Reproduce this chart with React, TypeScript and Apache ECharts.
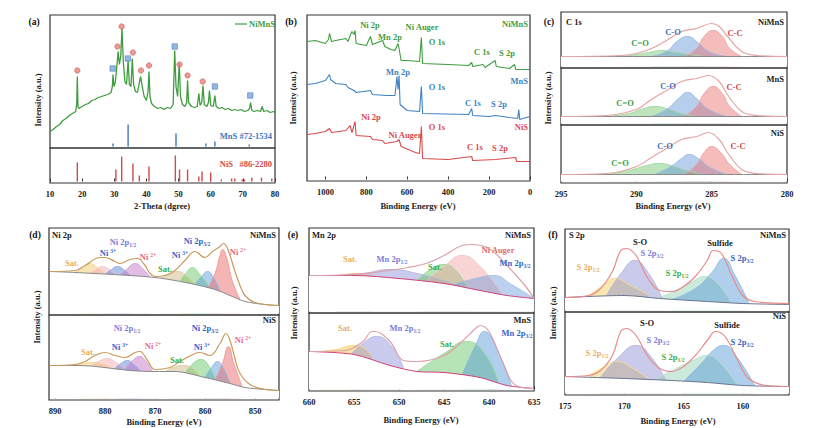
import { useEffect, useRef } from 'react';
import * as echarts from 'echarts';

type Pt = [number, number];

// ---------- (a) XRD ----------
const xrdNiMnS: Pt[] = [[10,15],[11,17],[12,20],[13,22],[14,26],[15,28],[16,31],[17,33],[18,35],[18.3,42],[18.5,70],[18.7,40],[19,38],[20,40],[21,42],[22,43],[23,46],[24,47],[25,49],[26,50],[27,51],[28,52],[29,54],[29.4,60],[29.6,72],[29.9,60],[30.3,64],[30.8,80],[31.2,95],[31.6,82],[32.0,90],[32.4,118],[32.8,85],[33.3,65],[33.8,62],[34.3,86],[34.7,62],[35.2,60],[35.6,88],[36.0,62],[36.6,55],[37.2,54],[37.8,64],[38.2,70],[38.7,60],[39.3,50],[40.0,46],[40.5,55],[40.8,75],[41.1,50],[41.6,43],[42.5,40],[43.5,38],[44.5,39],[45.5,37],[46.5,39],[47.5,38],[48.3,42],[48.8,96],[49.2,60],[49.7,50],[50.2,83],[50.6,50],[51.2,42],[52,40],[52.5,44],[52.8,66],[53.1,44],[54,40],[55,39],[55.8,40],[56.3,53],[56.7,41],[57.2,44],[57.6,61],[58,42],[58.8,40],[59.3,44],[59.6,56],[60,41],[60.8,40],[61.3,51],[61.7,40],[62.5,38],[63.5,39],[64.5,37],[65.5,38],[66.5,36],[67.5,37],[68.5,36],[69.5,37],[70.5,35],[71.5,36],[72.1,38],[72.4,44],[72.8,36],[73.5,35],[74.5,36],[75.5,35],[76,40],[76.5,35],[77.5,36],[78.5,34],[79.5,35],[80,34]];
const niSMarks: Pt[] = [[18.5,76],[31,100],[32.3,120],[35.8,94],[38.3,76],[40.8,81],[50.3,82],[52.8,71],[57.5,65]];
const mnSMarks: Pt[] = [[29.5,78],[34.2,88],[48.8,100],[61.3,60],[72.3,51]];
const mnSRef: Pt[] = [[29.6,3],[34.3,22],[49.2,13],[58.5,3],[61.3,5],[72,2]];
const niSRef: Pt[] = [[18.5,19],[30.5,12],[32.3,25],[35.8,18],[37.8,6],[40.8,15],[49,26],[50.3,12],[52.8,12],[56.3,5],[57.3,10],[60,9],[63.3,2],[66.5,3],[67.5,3],[69.8,2],[70.5,2],[72.8,4],[75.8,4],[79,3]];

// ---------- (b) survey ----------
const surveyTicks = [0, 200, 400, 600, 800, 1000];
const surveyNiMnS: Pt[] = [[1090,138],[1050,139],[1000,136],[985,140],[980,146],[970,138],[950,139],[900,141],[890,138],[875,146],[870,148],[860,145],[855,149],[850,136],[800,134],[780,143],[770,135],[720,139],[710,133],[680,130],[660,129],[645,136],[640,131],[630,119],[600,119],[540,118],[531,142],[525,116],[400,115],[300,114],[285,117],[280,113],[230,115],[220,112],[170,119],[165,113],[100,111],[75,115],[70,110],[0,110]];
const surveyMnS: Pt[] = [[1090,95],[1050,96],[1000,99],[980,105],[975,100],[950,96],[900,95],[890,92],[860,89],[850,87],[780,89],[770,85],[700,84],[660,84],[650,103],[645,90],[640,104],[635,75],[600,69],[540,68],[531,93],[525,66],[300,65],[285,71],[280,64],[200,63],[170,64],[100,62],[60,61],[55,70],[50,60],[0,63]];
const surveyNiS: Pt[] = [[1090,45],[1050,46],[1000,48],[980,51],[970,47],[900,49],[880,54],[870,47],[855,58],[850,44],[780,43],[770,40],[720,39],[710,36],[650,38],[640,40],[630,33],[560,27],[540,26],[531,53],[525,21],[400,20],[285,23],[280,19],[170,20],[70,22],[65,18],[0,18]];

// ---------- (c) C 1s ----------
const c1sNiMnSBg: Pt[] = [[295,10],[280,10]];
const c1sNiMnSEnv: Pt[] = [[295,10],[291,11],[290,13],[289,18],[288,26],[287,35],[286,38],[285,43],[284.5,40],[284,31],[283,15],[282,11],[280,10]];
const c1sNiMnSPeaks: Pt[][] = [
  [[291,10],[290,12],[289,14.5],[288.3,16],[287.5,14.5],[286.5,12],[285.5,10]],
  [[289,10],[288,15],[287.3,25],[286.6,30],[286,25],[285.2,15],[284,10]],
  [[286.8,10],[286,18],[285.5,30],[284.9,36],[284.3,30],[283.8,18],[283,10]],
];
const c1sMnSBg: Pt[] = [[295,7],[280,7]];
const c1sMnSEnv: Pt[] = [[295,7],[292,8],[290,14],[289,24],[288,33],[287,42],[286,45],[285.2,48],[284.5,42],[284,30],[283,12],[282,8],[280,7]];
const c1sMnSPeaks: Pt[][] = [
  [[292,7],[290.5,10],[289.5,15],[288.8,17],[288,15],[287,10],[286,7]],
  [[289,7],[288,14],[287.2,25],[286.6,31],[286,25],[285.2,14],[284,7]],
  [[286.8,7],[286,17],[285.5,30],[284.9,37],[284.3,30],[283.8,17],[283,7]],
];
const c1sNiSBg: Pt[] = [[295,7],[280,7]];
const c1sNiSEnv: Pt[] = [[295,7],[292,8],[290,15],[289,24],[288,33],[287,42],[286,45],[285.2,49],[284.5,42],[284,30],[283,12],[282,8],[280,7]];
const c1sNiSPeaks: Pt[][] = [
  [[292,7],[290.5,11],[289.3,16],[288.5,18],[287.7,16],[286.7,11],[285.5,7]],
  [[288.8,7],[287.8,14],[287,23],[286.5,27],[285.9,23],[285.1,14],[284,7]],
  [[286.8,7],[286,17],[285.5,29],[285,35],[284.4,29],[283.8,17],[283,7]],
];

// ---------- (d) Ni 2p ----------
const ni2pTicks = [850, 860, 870, 880, 890];
const ni2pNiMnSBg: Pt[] = [[891,42],[886,41],[875,38],[870,36],[866,33],[862,29],[858,24],[855,18],[852,12],[848,9],[845.2,8]];
const ni2pNiMnSEnv: Pt[] = [[891,42],[886,43],[884,48],[881,56],[880,56],[878,52],[877,50],[875,54],[873.5,55],[872,48],[871,40],[870,37],[868,38],[866,43],[864,53],[862,62],[860,56],[858.5,62],[857,67],[856.3,70],[855.5,65],[854,42],[853,28],[852,18],[850,11],[845.2,8]];
const ni2pNiMnSPeaks: Pt[][] = [
  [[886,41],[884.5,46],[883,50],[881.5,46],[880,39]],
  [[883,40],[881.7,44],[880.5,47],[879.2,44],[877.5,38]],
  [[880,39],[878.7,44],[877.5,47],[876.3,44],[875,38]],
  [[877,38],[875.5,45],[874,50],[872.5,45],[871,36]],
  [[869,35],[867.2,39],[865.5,42],[863.8,38],[862,29]],
  [[865,32],[863.7,41],[862.5,46],[861.2,40],[859,26]],
  [[862,29],[860.7,37],[859.5,42],[858.3,36],[857,22]],
  [[859.5,25],[858,40],[857,58],[856.5,64],[855.7,56],[854.5,32],[853,14]],
];
const ni2pNiSBg: Pt[] = [[891,33],[885,33],[875,28],[870,27],[866,27],[860,21],[855,15],[852,11],[848,9],[845.2,8]];
const ni2pNiSEnv: Pt[] = [[891,33],[886,34],[884,37],[882,43],[880,46],[878,43],[876,41],[874,46],[873,47],[871.5,38],[870,29],[867,31],[865,37],[862,45],[861,46],[859,43],[857,55],[855.8,65],[855,58],[854,40],[853,25],[851,14],[848,9],[845.2,8]];
const ni2pNiSPeaks: Pt[][] = [
  [[886,33],[884.3,35],[882.5,36],[880.7,35],[879,31]],
  [[883,32],[881.3,37],[879.5,40],[877.8,36],[876,30]],
  [[878,30],[876.8,35],[875.5,38],[874.3,34],[873,28]],
  [[876,29],[874.5,38],[873,42],[871.8,37],[870.5,27]],
  [[868,27],[866.3,31],[864.5,33],[862.8,31],[861,22]],
  [[864,25],[862.4,35],[860.8,39],[859.4,34],[858,20]],
  [[860,21],[858.7,31],[857.5,37],[856.3,30],[855,15]],
  [[858,18],[856.5,35],[855.3,52],[854.3,36],[852.5,11]],
];

// ---------- (e) Mn 2p ----------
const mn2pNiMnSBg: Pt[] = [[660,36],[655,36],[650,33],[645,28],[641,21],[638,16],[635,13]];
const mn2pNiMnSEnv: Pt[] = [[660,36],[655,37],[652,40],[649,44],[647,48],[645,56],[643,66],[642,67],[640,63],[638,46],[636,26],[635,13]];
const mn2pNiMnSPeaks: Pt[][] = [
  [[657,36],[656,37],[655,38],[654,37],[653,35]],
  [[657,36],[654,38],[651,42],[648,38],[644,28]],
  [[648,31],[646.5,42],[645,47],[643.8,42],[642.5,25]],
  [[647,30],[645,45],[643,56],[641,45],[638.5,17]],
  [[644,27],[641.5,33],[639.5,36],[637.5,27],[635,13]],
];
const mn2pMnSBg: Pt[] = [[660,38],[655,35],[651,24],[648,18],[645,17],[641,12],[638,4],[635,1]];
const mn2pMnSEnv: Pt[] = [[660,38],[656,39],[654,48],[653,58],[652.7,58],[651,48],[649.5,29],[648,28],[645,34],[643,48],[641.5,61],[641,64],[640,58],[638.5,28],[637,4],[635,1]];
const mn2pMnSPeaks: Pt[][] = [
  [[659,38],[657,40],[655,44],[654,42],[653,33]],
  [[655.5,34],[654,46],[652.5,53],[651,45],[649.5,22]],
  [[648,18],[645,36],[642.5,48],[640.5,36],[639,8]],
  [[643,14],[641.5,44],[640.5,58],[639.3,44],[637.5,3]],
];

// ---------- (f) S 2p ----------
const s2pTicks = [160, 165, 170, 175];
const s2pNiMnSBg: Pt[] = [[175,13],[170,15],[167,12],[163,9],[160,7],[156.1,6]];
const s2pNiMnSEnv: Pt[] = [[175,13],[173,15],[172,22],[171,39],[170.3,60],[169.8,62],[169,55],[168,32],[167,20],[166,19],[165,24],[164,34],[163,50],[162.5,60],[161.8,57],[161,37],[160,15],[159,9],[156.1,7]];
const s2pNiMnSPeaks: Pt[][] = [
  [[173,15],[171.8,25],[170.8,32],[169.6,26],[168,16]],
  [[171.5,15],[170.2,38],[169.1,50],[168,38],[166.8,12]],
  [[167.5,11],[166,18],[164.5,27],[163.2,34],[162.2,28],[161,9]],
  [[166,11],[164,22],[162.6,38],[161.6,52],[160.7,36],[159.5,8]],
];
const s2pNiSBg: Pt[] = [[175,17],[170,15],[166,13],[163,11],[160,8],[156.1,7]];
const s2pNiSEnv: Pt[] = [[175,17],[173,18],[172,23],[171,38],[170.3,62],[169.8,65],[169,58],[168,37],[167,25],[166,22],[165,27],[164,38],[163,53],[162.3,62],[161.5,57],[160.5,35],[159.5,15],[158,8],[156.1,7]];
const s2pNiSPeaks: Pt[][] = [
  [[173,18],[171.8,26],[170.6,32],[169.4,26],[168,15]],
  [[172,16],[170.5,36],[169,48],[167.7,36],[166.5,13]],
  [[167.5,13],[165.8,24],[164.2,33],[163,38],[162,32],[160.5,9]],
  [[165,12],[163.5,30],[162.4,44],[161.6,48],[160.6,38],[159,8]],
];

const SERIF = "'Liberation Serif', 'DejaVu Serif', serif";

const App = () => {
  const ref = useRef<HTMLDivElement | null>(null);
  useEffect(() => {
    document.body.style.margin = '0';
    if (!ref.current) return;
    const chart = echarts.init(ref.current, undefined, { renderer: 'svg' });

    const grids: any[] = [];
    const xAxes: any[] = [];
    const yAxes: any[] = [];
    const series: any[] = [];
    const graphic: any[] = [];

    const addPanel = (left: number, top: number, width: number, height: number, x: any, ymax: number, showX: boolean) => {
      const i = grids.length;
      grids.push({ left, top, width, height, show: true, borderColor: '#333', borderWidth: 1.2, containLabel: false });
      const { ticks, ...range } = x;
      xAxes.push({
        type: 'value', gridIndex: i, ...range,
        axisLine: { show: false }, splitLine: { show: false },
        axisTick: { show: showX, inside: true, length: 3, lineStyle: { color: '#333' }, customValues: ticks },
        axisLabel: { show: showX, color: '#222', fontFamily: SERIF, fontWeight: 'bold', fontSize: 8.5, margin: 6,
          customValues: ticks, formatter: (v: number) => String(v) },
      });
      yAxes.push({ type: 'value', gridIndex: i, min: -1.5, max: ymax - 1.5, show: false });
      return i;
    };

    const line = (i: number, data: Pt[], color: string, width = 1, z = 4, extra: any = {}) =>
      series.push({ type: 'line', xAxisIndex: i, yAxisIndex: i, data, symbol: 'none', z,
        lineStyle: { color, width }, ...extra });

    const xps = (i: number, bg: Pt[], env: Pt[], peaks: Pt[][], colors: string[], bgColor: string, envColor: string) => {
      peaks.forEach((p, k) => series.push({
        type: 'line', xAxisIndex: i, yAxisIndex: i, data: p, smooth: 0.5, symbol: 'none', z: 2,
        lineStyle: { color: echarts.color.lift(colors[k], 0.35), width: 0.9 },
        areaStyle: { color: colors[k], opacity: 0.45 },
      }));
      series.push({ type: 'line', xAxisIndex: i, yAxisIndex: i, data: bg, smooth: 0.3, symbol: 'none', z: 3,
        lineStyle: { color: bgColor, width: 1 }, areaStyle: { color: '#fff', opacity: 1 } });
      line(i, env, envColor, 1.2, 4, { smooth: 0.4 });
    };

    const txt = (x: number, y: number, text: string, fill = '#222', align = 'center', size = 8.5) =>
      graphic.push({ type: 'text', x, y, z: 100, style: {
        text, fill, fontFamily: SERIF, fontWeight: 'bold', fontSize: size, align, verticalAlign: 'middle',
        rich: {
          s: { fontSize: 5.5, fill, fontFamily: SERIF, fontWeight: 'bold', padding: [5, 0, 0, 0] },
          p: { fontSize: 5.5, fill, fontFamily: SERIF, fontWeight: 'bold', padding: [0, 0, 5, 0] },
          n: { fontSize: size, fill, fontFamily: SERIF, fontWeight: 'bold' },
        },
      } });
    const ytitle = (x: number, y: number) => graphic.push({ type: 'text', x, y, rotation: Math.PI / 2, z: 100,
      style: { text: 'Intensity (a.u.)', fill: '#222', fontFamily: SERIF, fontWeight: 'bold', fontSize: 8.5, align: 'center', verticalAlign: 'middle' } });

    // (a)
    const a1 = addPanel(50, 15, 225, 133, { min: 10, max: 80, interval: 10 }, 133, false);
    const a2 = addPanel(50, 148, 225, 35, { min: 10, max: 80, interval: 10 }, 35, true);
    line(a1, xrdNiMnS, '#3f9d3f', 1.3);
    series.push({ type: 'scatter', xAxisIndex: a1, yAxisIndex: a1, data: niSMarks, symbol: 'circle', symbolSize: 5.5, z: 5,
      itemStyle: { color: '#e8807a', borderColor: '#c05050', borderWidth: 0.6 } });
    series.push({ type: 'scatter', xAxisIndex: a1, yAxisIndex: a1, data: mnSMarks, symbol: 'rect', symbolSize: 5.5, z: 5,
      itemStyle: { color: '#7aa4dc', borderColor: '#3f70b8', borderWidth: 0.6 } });
    series.push({ type: 'bar', xAxisIndex: a1, yAxisIndex: a1, data: mnSRef, barWidth: 1.4, itemStyle: { color: '#3c78c0' } });
    series.push({ type: 'bar', xAxisIndex: a2, yAxisIndex: a2, data: niSRef, barWidth: 1.4, itemStyle: { color: '#d04a4a' } });
    graphic.push({ type: 'line', z: 100, shape: { x1: 235, y1: 24, x2: 247, y2: 24 }, style: { stroke: '#3f9d3f', lineWidth: 1.2 } });
    txt(249, 24, 'NiMnS', '#3f9d3f', 'left');
    txt(272, 136, 'MnS #72-1534', '#3c78c0', 'right');
    txt(272, 164, 'NiS   #86-2280', '#d04a4a', 'right');
    txt(34, 22, '(a)', '#111', 'center', 9.5);
    ytitle(38, 100);
    txt(162, 206, '2-Theta (dgree)');

    // (b)
    const b = addPanel(307, 15, 223, 166, { min: 0, max: 1090, inverse: true, ticks: surveyTicks }, 166, true);
    line(b, surveyNiMnS, '#3f9d3f', 1.1);
    line(b, surveyMnS, '#3c82c4', 1.1);
    line(b, surveyNiS, '#d94a4a', 1.1);
    txt(291, 22, '(b)', '#111', 'center', 9.5);
    ytitle(293, 98);
    txt(418, 206, 'Binding Energy (eV)');
    const g = '#3f9d3f', bl = '#3c82c4', r = '#d94a4a';
    txt(370, 25, 'Ni 2p', g); txt(390, 37, 'Mn 2p', g); txt(422, 27, 'Ni Auger', g); txt(437, 42, 'O 1s', g);
    txt(482, 52, 'C 1s', g); txt(507, 53, 'S 2p', g); txt(528, 24, 'NiMnS', g, 'right');
    txt(398, 72, 'Mn 2p', bl); txt(437, 87, 'O 1s', bl); txt(528, 81, 'MnS', bl, 'right');
    txt(473, 103, 'C 1s', bl); txt(499, 104, 'S 2p', bl);
    txt(371, 117, 'Ni 2p', r); txt(405, 135, 'Ni Auger', r); txt(437, 127, 'O 1s', r); txt(528, 127, 'NiS', r, 'right');
    txt(475, 147, 'C 1s', r); txt(500, 148, 'S 2p', r);

    // (c)
    const cx = { min: 280, max: 295, interval: 5, inverse: true };
    const c1 = addPanel(561, 12, 226, 56, cx, 56, false);
    const c2 = addPanel(561, 68, 226, 57, cx, 57, false);
    const c3 = addPanel(561, 125, 226, 58, cx, 58, true);
    const cCol = ['#6cc46c', '#5f92d6', '#e86a6a'];
    xps(c1, c1sNiMnSBg, c1sNiMnSEnv, c1sNiMnSPeaks, cCol, '#8a8a8a', '#e6a4a4');
    xps(c2, c1sMnSBg, c1sMnSEnv, c1sMnSPeaks, cCol, '#8a8a8a', '#e6a4a4');
    xps(c3, c1sNiSBg, c1sNiSEnv, c1sNiSPeaks, cCol, '#8a8a8a', '#e6a4a4');
    txt(549, 22, '(c)', '#111', 'center', 9.5);
    ytitle(548, 98);
    txt(673, 206, 'Binding Energy (eV)');
    txt(566, 22, 'C 1s', '#222', 'left'); txt(784, 22, 'NiMnS', '#222', 'right');
    txt(673, 32, 'C-O', '#3f70b8'); txt(735, 33, 'C-C', '#d04a4a'); txt(640, 43, 'C=O', '#3f9d3f');
    txt(784, 79, 'MnS', '#222', 'right');
    txt(668, 86, 'C-O', '#3f70b8'); txt(734, 87, 'C-C', '#d04a4a'); txt(625, 103, 'C=O', '#3f9d3f');
    txt(784, 133, 'NiS', '#222', 'right');
    txt(665, 146, 'C-O', '#3f70b8'); txt(738, 146, 'C-C', '#d04a4a'); txt(620, 163, 'C=O', '#3f9d3f');

    // (d)
    const dx = { min: 845.2, max: 891.2, inverse: true, ticks: ni2pTicks };
    const d1 = addPanel(49, 228, 230, 87, dx, 87, false);
    const d2 = addPanel(49, 315, 230, 85, dx, 85, true);
    const dCol = ['#f0c45a', '#f2a3ab', '#4e78cf', '#c06ac4', '#cbb478', '#5ec45e', '#4f94d8', '#e85c5c'];
    xps(d1, ni2pNiMnSBg, ni2pNiMnSEnv, ni2pNiMnSPeaks, dCol, '#8a8a8a', '#c89a5a');
    xps(d2, ni2pNiSBg, ni2pNiSEnv, ni2pNiSPeaks, dCol, '#8a8a8a', '#c89a5a');
    txt(35, 235, '(d)', '#111', 'center', 9.5);
    ytitle(37, 317);
    txt(164, 422, 'Binding Energy (eV)');
    const pu = '#7c7ed8', nb = '#3464c8', pk = '#e86a8a', og = '#e8b060', gr = '#3fae3f';
    txt(52, 235, 'Ni 2p', '#222', 'left'); txt(276, 235, 'NiMnS', '#222', 'right');
    txt(123, 242, '{n|Ni 2p}{s|1/2}', pu); txt(108, 253, '{n|Ni }{p|3+}', nb); txt(148, 257, '{n|Ni }{p|2+}', pk);
    txt(72, 263, 'Sat.', og); txt(197, 241, '{n|Ni 2p}{s|3/2}', nb); txt(180, 255, '{n|Ni }{p|3+}', nb);
    txt(165, 269, 'Sat.', gr); txt(238, 252, '{n|Ni }{p|2+}', pk);
    txt(276, 320, 'NiS', '#222', 'right');
    txt(127, 328, '{n|Ni 2p}{s|1/2}', pu); txt(205, 328, '{n|Ni 2p}{s|3/2}', nb); txt(88, 352, 'Sat.', og);
    txt(120, 347, '{n|Ni }{p|3+}', nb); txt(153, 346, '{n|Ni }{p|2+}', pk); txt(177, 360, 'Sat.', gr);
    txt(202, 347, '{n|Ni }{p|3+}', nb); txt(243, 340, '{n|Ni }{p|2+}', pk);

    // (e)
    const ex = { min: 635, max: 660, interval: 5, inverse: true };
    const e1 = addPanel(309, 228, 225, 85, ex, 85, false);
    const e2 = addPanel(309, 313, 225, 78, ex, 78, true);
    xps(e1, mn2pNiMnSBg, mn2pNiMnSEnv, mn2pNiMnSPeaks, ['#f0a030', '#8a8fd6', '#5ec45e', '#f2a0a0', '#6a9ad8'], '#d0407a', '#dca0a8');
    xps(e2, mn2pMnSBg, mn2pMnSEnv, mn2pMnSPeaks, ['#f0c030', '#8a8fd6', '#5ec45e', '#4f94d8'], '#d0407a', '#dca0a8');
    txt(293, 235, '(e)', '#111', 'center', 9.5);
    ytitle(294, 313);
    txt(421, 420, 'Binding Energy (eV)');
    txt(312, 235, 'Mn 2p', '#222', 'left'); txt(531, 235, 'NiMnS', '#222', 'right');
    txt(350, 259, 'Sat.', og); txt(392, 259, '{n|Mn 2p}{s|1/2}', pu); txt(435, 267, 'Sat.', gr);
    txt(498, 250, 'Ni Auger', '#e46a6a'); txt(515, 263, '{n|Mn 2p}{s|3/2}', nb);
    txt(531, 320, 'MnS', '#222', 'right');
    txt(345, 328, 'Sat.', og); txt(405, 328, '{n|Mn 2p}{s|1/2}', pu); txt(447, 344, 'Sat.', gr);
    txt(517, 333, '{n|Mn 2p}{s|3/2}', nb);

    // (f)
    const fx = { min: 156.1, max: 175, inverse: true, ticks: s2pTicks };
    const f1 = addPanel(565, 229, 224, 83, fx, 83, false);
    const f2 = addPanel(565, 312, 224, 83, fx, 83, true);
    const fCol = ['#f0cc50', '#8a8ad0', '#8fd0b0', '#4f94d8'];
    xps(f1, s2pNiMnSBg, s2pNiMnSEnv, s2pNiMnSPeaks, fCol, '#6a7490', '#e88a8a');
    xps(f2, s2pNiSBg, s2pNiSEnv, s2pNiSPeaks, fCol, '#6a7490', '#e88a8a');
    txt(553, 235, '(f)', '#111', 'center', 9.5);
    ytitle(553, 313);
    txt(678, 421, 'Binding Energy (eV)');
    txt(569, 235, 'S 2p', '#222', 'left'); txt(786, 235, 'NiMnS', '#222', 'right');
    txt(640, 242, 'S-O'); txt(720, 243, 'Sulfide');
    txt(652, 253, '{n|S 2p}{s|3/2}', pu); txt(588, 267, '{n|S 2p}{s|1/2}', og);
    txt(677, 273, '{n|S 2p}{s|1/2}', gr); txt(742, 258, '{n|S 2p}{s|3/2}', nb);
    txt(786, 316, 'NiS', '#222', 'right');
    txt(647, 323, 'S-O'); txt(727, 325, 'Sulfide');
    txt(658, 340, '{n|S 2p}{s|3/2}', pu); txt(673, 357, '{n|S 2p}{s|1/2}', gr);
    txt(597, 353, '{n|S 2p}{s|1/2}', og); txt(742, 342, '{n|S 2p}{s|3/2}', nb);

    chart.setOption({ animation: false, backgroundColor: '#fff', grid: grids, xAxis: xAxes, yAxis: yAxes, series, graphic });
    return () => chart.dispose();
  }, []);
  return <div ref={ref} style={{ width: 830, height: 428 }} />;
};

export default App;
